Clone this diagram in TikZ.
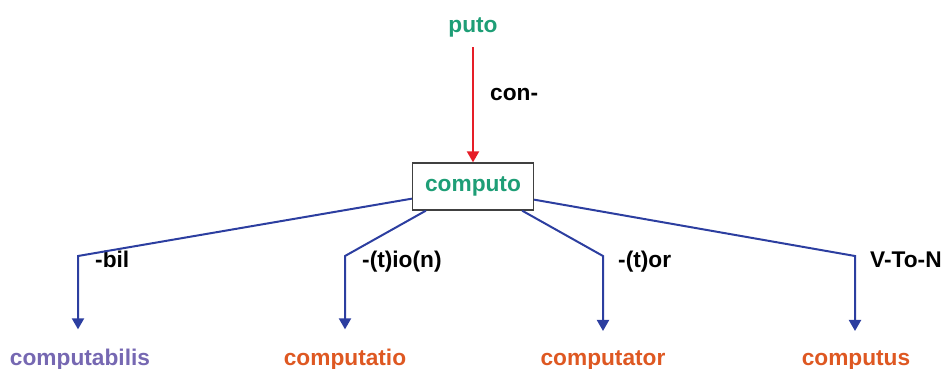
\documentclass[tikz,border=0pt]{standalone}
\usepackage{fontspec}
\setmainfont{Liberation Sans}
\usetikzlibrary{arrows.meta}
\definecolor{wgreen}{RGB}{30,158,118}
\definecolor{worange}{RGB}{222,88,34}
\definecolor{wpurple}{RGB}{118,104,178}
\definecolor{lblue}{RGB}{44,62,160}
\definecolor{lred}{RGB}{230,30,40}
\tikzset{
  word/.style={font=\fontsize{22.7}{27}\selectfont\bfseries, inner sep=0pt, anchor=base},
  affix/.style={font=\fontsize{22.7}{27}\selectfont\bfseries, inner sep=0pt, anchor=base west, text=black},
  rootbox/.style={draw=black!75, line width=1.3pt, minimum width=121pt, minimum height=47pt, inner sep=0pt,
    font=\fontsize{22.7}{27}\selectfont\bfseries, text=wgreen},
  bluearrow/.style={draw=lblue, line width=2pt, -{Triangle[length=11pt,width=12pt]}, shorten >=19pt},
  redarrow/.style={draw=lred, line width=2pt, -{Triangle[length=11pt,width=12pt]}},
}
\begin{document}
\begin{tikzpicture}[x=1pt,y=-1pt]
\useasboundingbox (0,0) rectangle (943,368);
\node[word, text=wgreen] (puto) at (473,32) {puto};
\node[rootbox] (cbox) at (473,186.5) {computo};
\node[affix] (con) at (490,100) {con-};
\draw[redarrow] ([yshift=-15pt]puto.base) -- (cbox.north);

\node[word, text=wpurple] (c1) at (80,365) {computabilis};
\node[word, text=worange] (c2) at (345,365) {computatio};
\node[word, text=worange] (c3) at (603,365) {computator};
\node[word, text=worange] (c4) at (856,365) {computus};

\node[affix] (a1) at (95,267) {-bil};
\node[affix] (a2) at (362,267) {-(t)io(n)};
\node[affix] (a3) at (618,267) {-(t)or};
\node[affix] (a4) at (870,267) {V-To-N};

\coordinate (k1) at (78,256);
\coordinate (k2) at (345,256);
\coordinate (k3) at (603,256);
\coordinate (k4) at (855,256);

\draw[bluearrow] ([yshift=12pt]cbox.south west) -- (k1) -- (k1 |- c1.north);
\draw[bluearrow] ([xshift=14pt]cbox.south west) -- (k2) -- (k2 |- c2.north);
\draw[bluearrow] ([xshift=-12pt]cbox.south east) -- (k3) -- (k3 |- c3.north);
\draw[bluearrow] ([yshift=11pt]cbox.south east) -- (k4) -- (k4 |- c4.north);
\end{tikzpicture}
\end{document}
